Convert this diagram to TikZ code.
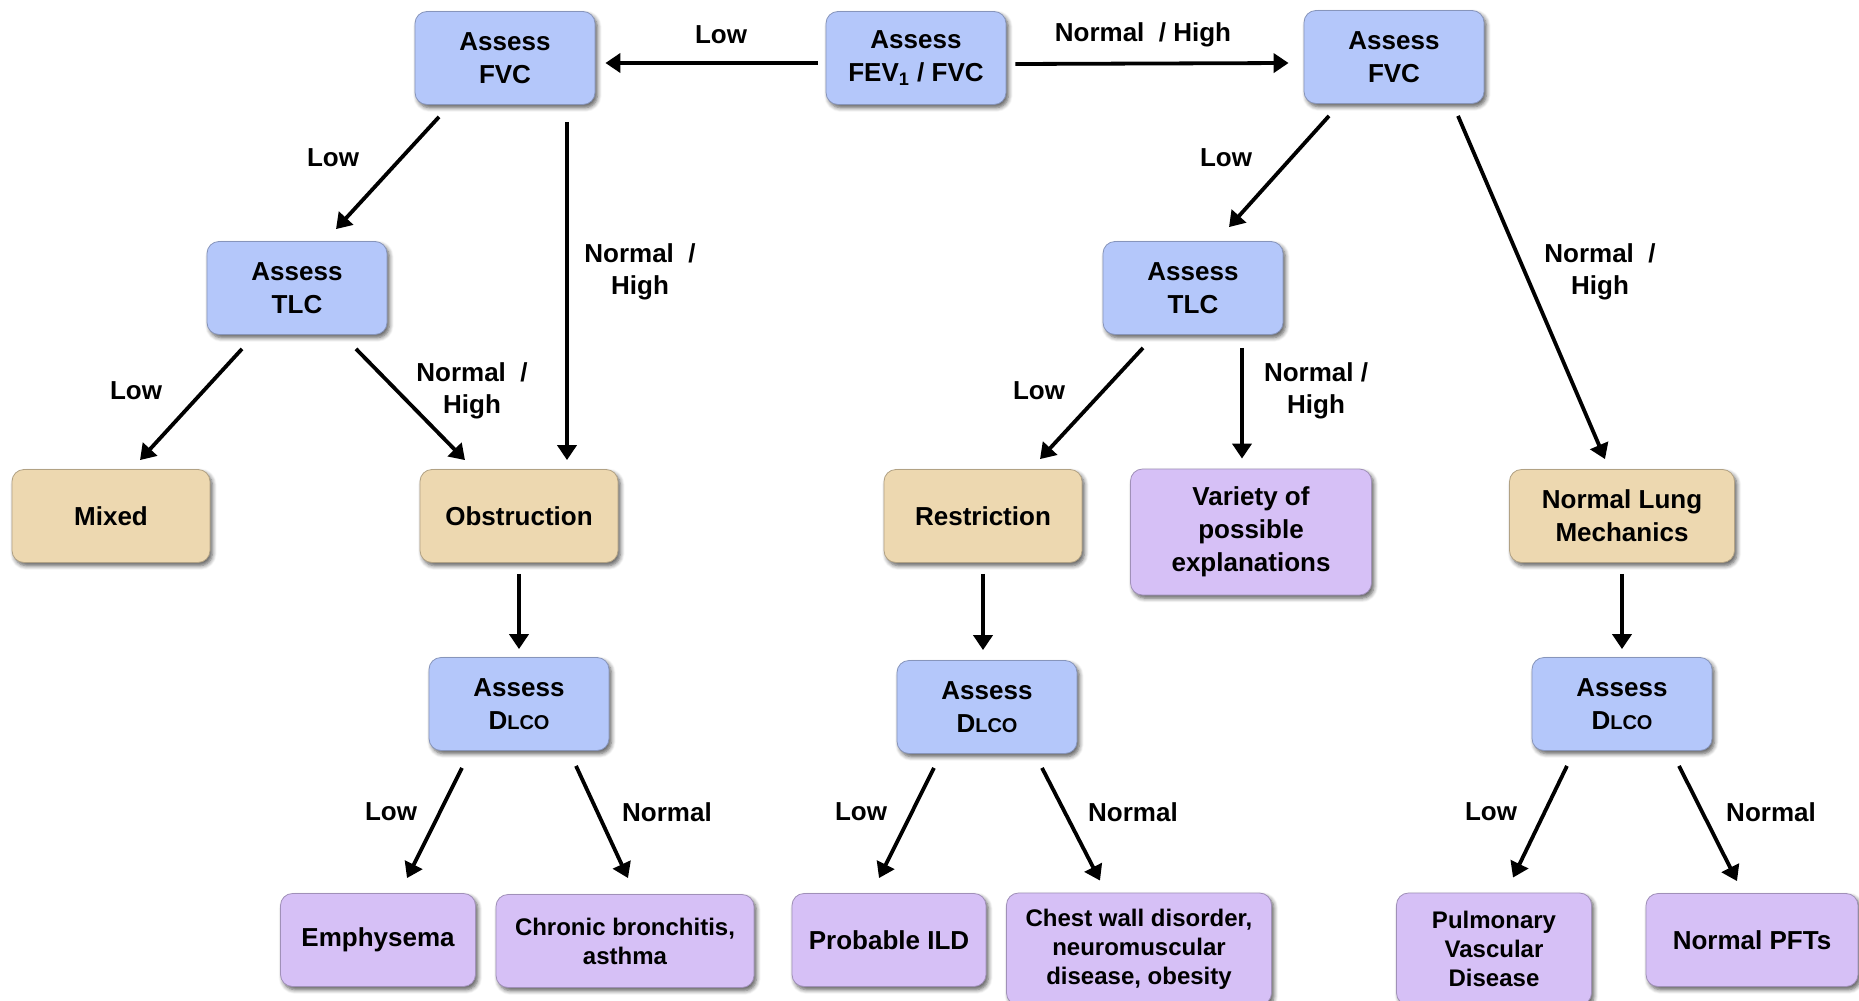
\documentclass[tikz,border=0pt]{standalone}
\usepackage{fontspec}
\setmainfont{Liberation Sans}
\usetikzlibrary{arrows.meta,shadows.blur,calc}
\definecolor{assessblue}{RGB}{180,199,250}
\definecolor{resulttan}{RGB}{237,216,176}
\definecolor{diagpurple}{RGB}{214,192,246}
\tikzset{
  box/.style={rounded corners=6pt, align=center, inner sep=2pt,
    font=\fontsize{13}{16.5}\selectfont\bfseries,
    blur shadow={shadow xshift=1.2pt, shadow yshift=-1.6pt, shadow blur steps=6, shadow opacity=65}},
  small/.style={font=\fontsize{12}{14.5}\selectfont\bfseries},
  assess/.style={box, fill=assessblue, draw=assessblue!75!black, minimum width=90pt, minimum height=46.5pt},
  result/.style={box, fill=resulttan, draw=resulttan!75!black, minimum width=99pt, minimum height=46.5pt},
  diagnosis/.style={box, fill=diagpurple, draw=diagpurple!75!black, minimum height=46.5pt},
  arr/.style={line width=1.9pt, -{Triangle[length=7.5pt,width=9.5pt]}},
  lbl/.style={font=\fontsize{13}{16}\selectfont\bfseries, align=center}
}
\newcommand{\dlco}{D{\fontsize{10}{10}\selectfont LCO}}

\begin{document}
\begin{tikzpicture}[x=0.5pt, y=-0.5pt]
  \useasboundingbox (0,0) rectangle (1859,1001);

  % assess nodes
  \node[assess] (fev) at (916,58) {Assess\\FEV\textsubscript{1} / FVC};
  \node[assess] (fvcL) at (505,58) {Assess\\FVC};
  \node[assess] (fvcR) at (1394,57) {Assess\\FVC};
  \node[assess] (tlcL) at (297,288) {Assess\\TLC};
  \node[assess] (tlcR) at (1193,288) {Assess\\TLC};
  \node[assess] (dlcoL) at (519,704) {Assess\\\dlco};
  \node[assess] (dlcoM) at (987,707) {Assess\\\dlco};
  \node[assess] (dlcoR) at (1622,704) {Assess\\\dlco};

  % patterns
  \node[result] (mixed) at (111,516) {Mixed};
  \node[result] (obstr) at (519,516) {Obstruction};
  \node[result] (restr) at (983,516) {Restriction};
  \node[result, minimum width=112.5pt] (normal) at (1622,516) {Normal Lung\\Mechanics};

  % diagnoses
  \node[diagnosis, minimum width=120.5pt, minimum height=63pt] (variety) at (1251,532) {Variety of\\possible\\explanations};
  \node[diagnosis, minimum width=97.5pt] (emph) at (378,940) {Emphysema};
  \node[diagnosis, small, minimum width=129pt] (chronic) at (625,941) {Chronic bronchitis,\\asthma};
  \node[diagnosis, minimum width=97pt] (ild) at (889,940) {Probable ILD};
  \node[diagnosis, small, minimum width=132.5pt, minimum height=56pt] (chest) at (1139,949) {Chest wall disorder,\\neuromuscular\\disease, obesity};
  \node[diagnosis, small, minimum width=97.5pt, minimum height=56pt] (pulm) at (1494,949) {Pulmonary\\Vascular\\Disease};
  \node[diagnosis, minimum width=106pt] (pft) at (1752,940) {Normal PFTs};

  % top row
  \draw[arr] ($(fev.west)+(-8,5)$) -- ($(fvcL.east)+(10,5)$);
  \draw[arr] ($(fev.east)+(9,6)$) -- ($(fvcR.west)+(-15,6)$);
  \node[lbl] (lowTop) at (721,35) {Low};
  \node[lbl] (highTop) at (1143,35) {Normal~~/ High};

  % left branch
  \draw[arr] ($(fvcL.south)+(-66,12)$) -- ($(tlcL.north)+(39,-12)$);
  \draw[arr] ($(fvcL.south)+(62,17)$) -- ($(obstr.north)+(48,-9)$);
  \draw[arr] ($(tlcL.south)+(-55,14)$) -- ($(mixed.north)+(29,-9)$);
  \draw[arr] ($(tlcL.south)+(59,14)$) -- ($(obstr.north)+(-54,-9)$);
  \draw[arr] ($(obstr.south)+(0,11)$) -- ($(dlcoL.north)+(0,-8)$);
  \draw[arr] ($(dlcoL.south)+(-57,17)$) -- ($(emph.north)+(29,-15)$);
  \draw[arr] ($(dlcoL.south)+(57,15)$) -- ($(chronic.north)+(3,-16)$);
  \node[lbl] (lowFvcL) at (333,158) {Low};
  \node[lbl] (highFvcL) at (640,272) {Normal~~/\\High};
  \node[lbl] (lowTlcL) at (136,391) {Low};
  \node[lbl] (highTlcL) at (472,391) {Normal~~/\\High};
  \node[lbl] (lowDlcoL) at (391,812) {Low};
  \node[lbl] (normDlcoL) at (667,812) {Normal};

  % right branch
  \draw[arr] ($(fvcR.south)+(-65,12)$) -- ($(tlcR.north)+(36,-14)$);
  \draw[arr] ($(fvcR.south)+(64,12)$) -- ($(normal.north)+(-17,-10)$);
  \draw[arr] ($(tlcR.south)+(-50,13)$) -- ($(restr.north)+(57,-10)$);
  \draw[arr] ($(tlcR.south)+(49,13)$) -- ($(variety.north)+(-9,-10)$);
  \draw[arr] ($(restr.south)+(0,11)$) -- ($(restr.south |- dlcoM.north)+(0,-10)$);
  \draw[arr] ($(dlcoM.south)+(-53,14)$) -- ($(ild.north)+(-10,-15)$);
  \draw[arr] ($(dlcoM.south)+(55,14)$) -- ($(chest.north)+(-39,-12)$);
  \draw[arr] ($(normal.south)+(0,11)$) -- ($(dlcoR.north)+(0,-8)$);
  \draw[arr] ($(dlcoR.south)+(-55,15)$) -- ($(pulm.north)+(19,-15)$);
  \draw[arr] ($(dlcoR.south)+(57,15)$) -- ($(pft.north)+(-15,-12)$);
  \node[lbl] (lowFvcR) at (1226,158) {Low};
  \node[lbl] (highFvcR) at (1600,272) {Normal~~/\\High};
  \node[lbl] (lowTlcR) at (1039,391) {Low};
  \node[lbl] (highTlcR) at (1316,391) {Normal /\\High};
  \node[lbl] (lowDlcoM) at (861,812) {Low};
  \node[lbl] (normDlcoM) at (1133,812) {Normal};
  \node[lbl] (lowDlcoR) at (1491,812) {Low};
  \node[lbl] (normDlcoR) at (1771,812) {Normal};
\end{tikzpicture}
\end{document}
